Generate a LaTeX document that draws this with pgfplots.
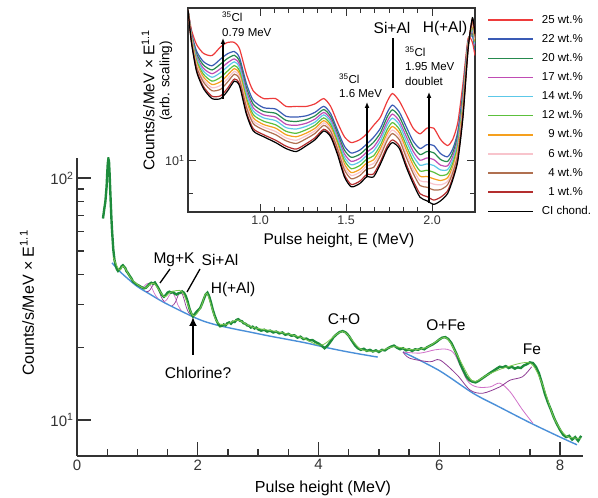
\documentclass[border=0pt]{standalone}
\usepackage{fontspec}
\setmainfont{Liberation Sans}
\usepackage{pgfplots}
\pgfplotsset{compat=1.18}
\usepackage{pgfplotstable}
\usetikzlibrary{arrows.meta}

\definecolor{axgray}{HTML}{333333}
\definecolor{dkgreen}{HTML}{1E8C3C}
\definecolor{ltgreen}{HTML}{7CC850}
\definecolor{bluec}{HTML}{4A8FD8}
\definecolor{magc}{HTML}{D070C8}
\definecolor{purc}{HTML}{8E3C94}
\definecolor{c25}{HTML}{EE3B3B}
\definecolor{c22}{HTML}{3A5BB5}
\definecolor{c20}{HTML}{268A4E}
\definecolor{c17}{HTML}{C04CB4}
\definecolor{c14}{HTML}{5CC8E8}
\definecolor{c12}{HTML}{5CC03C}
\definecolor{c9}{HTML}{F5A01E}
\definecolor{c6}{HTML}{F8C4CC}
\definecolor{c4}{HTML}{B07050}
\definecolor{c1}{HTML}{B42E2E}

% measured spectrum (main panel)
\pgfplotstableread{
x y
0.43 68
0.45 74
0.47 80
0.49 92
0.50 104
0.51 115
0.52 120
0.53 117
0.54 104
0.55 90
0.56 78
0.57 68
0.58 61
0.60 51
0.62 46
0.64 43.5
0.66 42
0.68 41.3
0.70 41.8
0.72 42.3
0.74 43.2
0.76 43.6
0.78 43.0
0.80 42.4
0.82 41.2
0.84 40.6
0.87 39.5
0.90 38.5
0.93 37.3
0.96 36.8
0.99 36.3
1.02 36.0
1.05 35.6
1.08 35.3
1.11 35.0
1.14 35.2
1.17 35.8
1.20 36.5
1.23 36.9
1.26 36.6
1.29 37.0
1.32 36.0
1.35 35.0
1.38 33.8
1.41 32.8
1.44 32.3
1.47 32.8
1.50 33.6
1.53 33.9
1.56 33.6
1.59 33.8
1.62 33.3
1.65 33.0
1.68 33.4
1.71 33.5
1.74 34.0
1.77 33.6
1.80 32.6
1.83 31.0
1.86 29.0
1.89 27.6
1.92 26.8
1.95 27.4
1.98 28.0
2.01 28.5
2.04 29.0
2.07 30.2
2.10 31.6
2.13 33.0
2.16 33.6
2.19 32.4
2.22 30.5
2.25 28.5
2.28 27.0
2.31 25.8
2.34 24.9
2.37 24.4
2.40 24.5
2.43 24.8
2.46 24.6
2.49 25.1
2.52 25.3
2.55 25.0
2.58 25.5
2.61 25.4
2.64 25.9
2.67 26.1
2.70 25.7
2.73 25.6
2.76 25.1
2.79 25.0
2.82 24.6
2.85 24.5
2.88 24.1
2.91 24.3
2.94 23.9
2.97 24.1
3.00 23.7
3.05 23.4
3.10 23.6
3.15 23.2
3.20 23.4
3.25 23.0
3.30 23.2
3.35 22.8
3.40 23.0
3.45 22.5
3.50 22.7
3.55 22.3
3.60 22.4
3.65 21.9
3.70 22.1
3.75 21.6
3.80 21.7
3.85 21.3
3.90 21.4
3.95 21.0
4.00 20.7
4.05 20.3
4.10 19.8
4.15 20.3
4.20 21.1
4.25 22.0
4.30 22.6
4.35 23.1
4.40 23.3
4.45 23.0
4.50 22.3
4.55 21.3
4.60 20.4
4.65 19.8
4.70 19.5
4.75 19.7
4.80 19.3
4.85 19.5
4.90 19.2
4.95 19.4
5.00 19.1
5.05 19.5
5.10 19.4
5.15 19.8
5.20 20.1
5.25 20.3
5.30 19.9
5.35 19.6
5.40 19.8
5.45 19.4
5.50 19.6
5.55 19.3
5.60 19.6
5.65 19.5
5.70 19.8
5.75 19.6
5.80 20.0
5.85 20.3
5.90 20.6
5.95 21.0
6.00 21.5
6.05 21.9
6.10 22.0
6.15 21.6
6.20 20.8
6.25 19.6
6.30 18.4
6.35 17.0
6.40 16.0
6.45 15.1
6.50 14.6
6.55 14.4
6.60 14.3
6.65 14.5
6.70 14.8
6.75 15.1
6.80 15.4
6.85 15.7
6.90 16.0
6.95 16.3
7.00 16.6
7.05 16.5
7.10 16.7
7.15 16.4
7.20 16.6
7.25 16.3
7.30 16.5
7.35 16.4
7.40 16.8
7.45 17.0
7.50 17.3
7.55 17.2
7.60 16.6
7.65 15.6
7.70 14.2
7.75 12.8
7.80 11.8
7.85 11.0
7.90 10.2
7.95 9.6
8.00 9.1
8.05 8.7
8.10 8.5
8.15 8.6
8.20 8.3
8.25 8.5
8.30 8.2
8.35 8.6
}\spec

% smooth fit through the spectrum
\pgfplotstableread{
x y
0.60 47
0.70 41.7
0.77 43.2
0.90 38.3
1.05 35.6
1.13 35.1
1.27 36.7
1.44 32.4
1.55 33.7
1.74 33.9
1.92 27.0
2.05 29.2
2.15 33.4
2.30 25.9
2.45 24.7
2.66 25.9
2.90 24.2
3.30 23.2
3.70 22.0
4.05 20.4
4.40 23.2
4.70 19.6
5.00 19.3
5.25 20.1
5.55 19.5
5.80 20.0
6.10 21.9
6.30 18.5
6.55 14.5
6.80 15.4
7.10 16.5
7.50 17.2
7.70 14.2
7.90 10.2
8.10 8.6
8.35 8.4
}\fit

\pgfplotstableread{
x y
0.58 44.6
0.70 41.3
0.83 38.6
1.00 35.6
1.20 33.2
1.40 31.0
1.60 29.2
1.80 27.6
1.92 26.7
2.10 25.6
2.31 24.7
2.60 23.8
2.86 23.1
3.20 22.2
3.50 21.5
3.80 20.8
4.10 20.0
4.40 19.3
4.70 18.7
4.98 18.2
}\blueA

\pgfplotstableread{
x y
5.40 19.1
6.00 16.0
6.56 12.9
7.00 11.3
7.50 9.75
8.00 8.5
8.28 7.9
}\blueB

\pgfplotstableread{
x y
1.04 35.25
1.07 35.2
1.10 35.5
1.13 36.1
1.16 36.6
1.19 36.7
1.22 36.0
1.25 34.7
1.28 33.4
1.31 32.45
1.34 31.8
}\mgA

\pgfplotstableread{
x y
1.15 33.95
1.18 34.0
1.21 34.5
1.24 35.5
1.27 36.4
1.30 36.6
1.33 35.7
1.36 34.15
1.39 32.5
1.42 31.4
1.45 30.75
}\mgB

\pgfplotstableread{
x y
1.43 30.9
1.46 31.0
1.49 31.5
1.52 32.5
1.55 33.3
1.58 33.55
1.61 32.8
1.64 31.5
1.67 29.9
1.70 29.0
1.73 28.3
}\siA

\pgfplotstableread{
x y
1.57 29.7
1.60 29.95
1.63 30.7
1.66 32.05
1.69 33.3
1.72 33.7
1.75 32.85
1.78 31.1
1.81 29.25
1.84 28.05
1.87 27.3
}\siB

\pgfplotstableread{
x y
5.40 19.1
5.68 18.9
5.93 19.5
6.13 19.6
6.26 18.6
6.46 14.6
6.62 13.7
6.84 13.7
7.00 14.2
7.17 13.1
7.38 11.0
7.55 9.7
}\feA

\pgfplotstableread{
x y
5.40 19.1
5.51 18.0
5.84 17.4
6.01 17.7
6.29 15.4
6.51 13.3
6.72 12.9
7.00 13.7
7.17 14.6
7.38 15.1
7.53 16.6
}\feB

% inset spectra
\pgfplotstableread{
x k c1 c4 c6 c9 c12 c14 c17 c20 c22 c25
0.58 16.2 16.2 16.2 16.2 16.2 16.2 16.2 16.2 16.2 16.2 16.2
0.60 14.6 14.63 14.7 14.74 14.79 14.83 14.89 14.94 14.99 15.05 15.2
0.63 13.3 13.36 13.5 13.59 13.67 13.77 13.88 13.97 14.08 14.2 14.5
0.67 12.6 12.68 12.86 12.96 13.07 13.19 13.32 13.44 13.58 13.73 14.1
0.72 12.2 12.29 12.51 12.63 12.76 12.9 13.06 13.21 13.37 13.55 14.0
0.77 12.2 12.31 12.57 12.73 12.88 13.06 13.26 13.43 13.63 13.85 14.4
0.81 12.5 12.61 12.86 13.0 13.15 13.32 13.51 13.68 13.87 14.08 14.6
0.85 12.9 12.99 13.19 13.31 13.43 13.56 13.72 13.85 14.01 14.18 14.6
0.88 12.7 12.78 12.97 13.08 13.2 13.32 13.47 13.6 13.74 13.9 14.3
0.92 11.6 11.68 11.87 11.98 12.1 12.22 12.37 12.5 12.64 12.8 13.2
0.96 11.0 11.08 11.26 11.36 11.47 11.59 11.72 11.84 11.98 12.13 12.5
1.02 10.8 10.87 11.04 11.14 11.23 11.35 11.47 11.58 11.71 11.85 12.2
1.09 10.6 10.68 10.87 10.98 11.1 11.22 11.37 11.5 11.64 11.8 12.2
1.15 10.4 10.48 10.66 10.76 10.87 10.99 11.12 11.24 11.38 11.53 11.9
1.21 10.3 10.38 10.57 10.68 10.8 10.92 11.07 11.2 11.34 11.5 11.9
1.27 10.5 10.57 10.74 10.84 10.93 11.05 11.17 11.28 11.41 11.55 11.9
1.32 10.7 10.77 10.92 11.01 11.1 11.21 11.32 11.43 11.55 11.68 12.0
1.37 11.0 11.06 11.2 11.29 11.37 11.47 11.58 11.67 11.78 11.9 12.2
1.41 10.8 10.86 10.99 11.06 11.14 11.23 11.33 11.42 11.52 11.63 11.9
1.45 10.2 10.26 10.39 10.46 10.54 10.63 10.73 10.82 10.92 11.03 11.3
1.49 9.5 9.57 9.72 9.81 9.9 10.01 10.12 10.23 10.35 10.48 10.8
1.53 9.2 9.27 9.44 9.54 9.63 9.75 9.87 9.98 10.11 10.25 10.6
1.58 9.3 9.37 9.54 9.64 9.73 9.85 9.97 10.08 10.21 10.35 10.7
1.62 9.5 9.57 9.74 9.84 9.93 10.05 10.17 10.28 10.41 10.55 10.9
1.66 9.5 9.59 9.79 9.91 10.03 10.16 10.32 10.45 10.61 10.78 11.2
1.70 9.9 9.98 10.17 10.28 10.4 10.52 10.67 10.8 10.94 11.1 11.5
1.74 10.4 10.49 10.69 10.81 10.93 11.06 11.22 11.35 11.51 11.68 12.1
1.77 10.6 10.69 10.91 11.03 11.16 11.3 11.46 11.61 11.77 11.95 12.4
1.81 10.4 10.49 10.69 10.81 10.93 11.06 11.22 11.35 11.51 11.68 12.1
1.85 9.8 9.89 10.11 10.23 10.36 10.5 10.66 10.81 10.97 11.15 11.6
1.89 9.3 9.39 9.61 9.73 9.86 10.0 10.16 10.31 10.47 10.65 11.1
1.93 8.9 9.0 9.24 9.38 9.52 9.68 9.86 10.02 10.2 10.4 10.9
1.97 8.8 8.92 9.19 9.35 9.51 9.7 9.9 10.09 10.3 10.53 11.1
2.01 8.7 8.82 9.11 9.28 9.44 9.64 9.85 10.04 10.26 10.5 11.1
2.05 8.8 8.9 9.12 9.26 9.39 9.54 9.71 9.86 10.04 10.23 10.7
2.09 9.0 9.08 9.26 9.36 9.47 9.59 9.72 9.84 9.98 10.13 10.5
2.12 9.4 9.47 9.62 9.71 9.8 9.91 10.02 10.13 10.25 10.38 10.7
2.15 10.0 10.07 10.22 10.31 10.4 10.51 10.62 10.73 10.85 10.98 11.3
2.18 11.5 11.57 11.72 11.81 11.9 12.01 12.12 12.23 12.35 12.48 12.8
2.21 14.3 14.33 14.39 14.42 14.46 14.5 14.54 14.58 14.63 14.68 14.8
2.235 15.8 15.74 15.6 15.51 15.43 15.33 15.22 15.13 15.02 14.9 14.6
2.25 15.0 14.95 14.83 14.76 14.69 14.61 14.52 14.44 14.35 14.25 14.0
}\inset

\begin{document}
\begin{tikzpicture}[x=1pt,y=1pt]
\path[use as bounding box] (0,0) rectangle (598,498);

% ---------------- main panel ----------------
\begin{axis}[
  at={(77pt,42pt)}, anchor=south west, scale only axis,
  width=506pt, height=298pt,
  ymode=log, xmin=0, xmax=8.38, ymin=7.1, ymax=121,
  axis x line=bottom, axis y line=left,
  axis line style={-, line width=1.3pt, draw=axgray},
  tick style={line width=1.3pt, draw=axgray},
  tick align=inside,
  major tick length=14pt, minor tick length=7pt,
  xtick={0,2,4,6,8}, xticklabels={0,2,4,6,8}, minor x tick num=3,
  ytick={10,100}, yticklabels={10\textsuperscript{1},10\textsuperscript{2}},
  ticklabel style={font=\fontsize{15}{18}\selectfont, text=axgray},
]
\addplot[bluec, line width=1.4pt, smooth] table {\blueA};
\addplot[bluec, line width=1.4pt, smooth] table {\blueB};
\addplot[magc, line width=0.7pt, smooth] table {\mgA};
\addplot[purc, line width=0.7pt, smooth] table {\mgB};
\addplot[magc, line width=0.7pt, smooth] table {\siA};
\addplot[purc, line width=0.7pt, smooth] table {\siB};
\addplot[magc, line width=0.8pt, smooth] table {\feA};
\addplot[purc, line width=0.8pt, smooth] table {\feB};
\addplot[dkgreen, line width=2.4pt] table {\spec};
\addplot[ltgreen, line width=0.8pt, smooth] table {\fit};
\end{axis}

\node[rotate=90, font=\fontsize{16}{19}\selectfont] at (27,195) {Counts/s/MeV × E\textsuperscript{1.1}};
\node[font=\fontsize{16}{19}\selectfont] at (323,10) {Pulse height (MeV)};

\begin{scope}[font=\fontsize{15.5}{18}\selectfont]
\node at (174,238) {Mg+K};
\node at (220,238) {Si+Al};
\node at (233,209) {H(+Al)};
\node at (198,125) {Chlorine?};
\node at (344,179) {C+O};
\node at (446,173) {O+Fe};
\node at (532,149) {Fe};
\end{scope}
\draw[line width=1.3pt] (170,229) -- (160,215);
\draw[line width=1.3pt] (200,229) -- (187,206);
\draw[line width=2.5pt, -{Latex[length=9pt,width=8pt]}] (193,143) -- (193,181);

% ---------------- inset ----------------
\begin{axis}[
  at={(188pt,286pt)}, anchor=south west, scale only axis,
  width=287pt, height=204pt,
  ymode=log, xmin=0.58, xmax=2.25, ymin=8.49, ymax=16.3,
  axis background/.style={fill=white},
  axis line style={line width=1.1pt, draw=axgray},
  tick style={line width=1pt, draw=axgray},
  tick align=inside,
  major tick length=8pt, minor tick length=5pt,
  xtick={1.0,1.5,2.0}, xticklabels={1.0,1.5,2.0}, minor x tick num=5,
  ytick={10}, yticklabels={10\textsuperscript{1}}, minor ytick={9},
  ticklabel style={font=\fontsize{12.5}{15}\selectfont, text=axgray},
  legend style={at={(1.042,0.975)}, anchor=north west, draw=none, fill=none,
    inner sep=0pt, font=\fontsize{11.5}{13}\selectfont, row sep=5.6pt,
    column sep=6pt},
  legend cell align=left,
  legend image code/.code={\draw[#1, line width=1.6pt] (0pt,0pt) -- (45pt,0pt);},
  every axis plot/.append style={line width=1.2pt, smooth, tension=0.4},
]
\addplot[c25] table[x=x,y=c25] {\inset}; \addlegendentry{25 wt.\%}
\addplot[c22] table[x=x,y=c22] {\inset}; \addlegendentry{22 wt.\%}
\addplot[c20] table[x=x,y=c20] {\inset}; \addlegendentry{20 wt.\%}
\addplot[c17] table[x=x,y=c17] {\inset}; \addlegendentry{17 wt.\%}
\addplot[c14] table[x=x,y=c14] {\inset}; \addlegendentry{14 wt.\%}
\addplot[c12] table[x=x,y=c12] {\inset}; \addlegendentry{12 wt.\%}
\addplot[c9] table[x=x,y=c9] {\inset}; \addlegendentry{\phantom{0}9 wt.\%}
\addplot[c6] table[x=x,y=c6] {\inset}; \addlegendentry{\phantom{0}6 wt.\%}
\addplot[c4] table[x=x,y=c4] {\inset}; \addlegendentry{\phantom{0}4 wt.\%}
\addplot[c1] table[x=x,y=c1] {\inset}; \addlegendentry{\phantom{0}1 wt.\%}
\addplot[black] table[x=x,y=k] {\inset}; \addlegendentry{CI chond.}
\end{axis}

\node[rotate=90, font=\fontsize{15.5}{18}\selectfont] at (148,398) {Counts/s/MeV × E\textsuperscript{1.1}};
\node[rotate=90, font=\fontsize{13.5}{16}\selectfont] at (166,417) {(arb. scaling)};
\node[font=\fontsize{15.5}{18}\selectfont] at (339,258) {Pulse height, E (MeV)};

\begin{scope}[font=\fontsize{11.5}{13}\selectfont]
\node[anchor=west, inner sep=0pt] at (222,481) {\textsuperscript{35}Cl};
\node[anchor=west, inner sep=0pt] at (222,465) {0.79 MeV};
\node[anchor=west, inner sep=0pt] at (339,419) {\textsuperscript{35}Cl};
\node[anchor=west, inner sep=0pt] at (339,404) {1.6 MeV};
\node[anchor=west, inner sep=0pt] at (405,446) {\textsuperscript{35}Cl};
\node[anchor=west, inner sep=0pt] at (405,431) {1.95 MeV};
\node[anchor=west, inner sep=0pt] at (405,417) {doublet};
\end{scope}
\node[font=\fontsize{15.5}{18}\selectfont] at (392,470) {Si+Al};
\node[font=\fontsize{15.5}{18}\selectfont] at (445,470) {H(+Al)};
\draw[line width=1.2pt, -{Latex[length=6pt,width=5pt]}] (223,399) -- (223,460);
\draw[line width=1.2pt, -{Latex[length=6pt,width=5pt]}] (367,321) -- (367,396);
\draw[line width=1.2pt] (393,410) -- (393,460);
\draw[line width=1.2pt, -{Latex[length=6pt,width=5pt]}] (429,295) -- (429,406);
\end{tikzpicture}
\end{document}
